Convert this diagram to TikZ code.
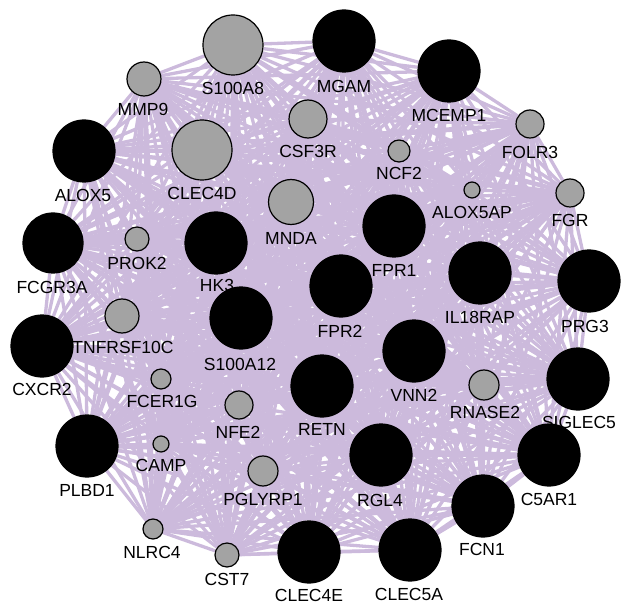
\documentclass[tikz,border=0pt]{standalone}
\usepackage{fontspec}
\setmainfont{Liberation Sans}
\definecolor{edgecol}{RGB}{204,186,220}
\definecolor{nodegray}{RGB}{163,163,163}
\pgfdeclarelayer{edges}
\pgfsetlayers{edges,main}
\tikzset{
  gene/.style={circle, draw=black, line width=1.2pt, inner sep=0pt, minimum size=#1},
  genelabel/.style={inner sep=0pt, font=\fontsize{17.5}{20}\selectfont, text=black},
  edge/.style={draw=edgecol, line width=3.3pt},
  B/.style={fill=black},
  G/.style={fill=nodegray}
}
\def\genes{S100A8,MGAM,MMP9,MCEMP1,CSF3R,FOLR3,ALOX5,CLEC4D,NCF2,ALOX5AP,FGR,MNDA,FPR1,PROK2,HK3,FCGR3A,IL18RAP,PRG3,FPR2,TNFRSF10C,S100A12,CXCR2,VNN2,FCER1G,SIGLEC5,RNASE2,RETN,NFE2,PLBD1,CAMP,PGLYRP1,RGL4,C5AR1,FCN1,NLRC4,CST7,CLEC4E,CLEC5A}
\begin{document}
\begin{tikzpicture}[x=1pt,y=-1pt]
\useasboundingbox (0,0) rectangle (624,604);
% labels first (circles drawn later cover them where they overlap)
\foreach \n/\lx/\ly in {
  S100A8/233/88, MGAM/344/86, MMP9/143/109, MCEMP1/449/115, CSF3R/308/151,
  FOLR3/530/152, ALOX5/83/195, CLEC4D/202/193, NCF2/399/173, ALOX5AP/472/212,
  FGR/570/220, MNDA/291/238, FPR1/394/270, PROK2/137/263, HK3/217/285,
  FCGR3A/52/287, IL18RAP/480/317, PRG3/585/326, FPR2/340/331, TNFRSF10C/123/347,
  S100A12/240/364, CXCR2/42/389, VNN2/414/395, FCER1G/162/401, SIGLEC5/579/422,
  RNASE2/485/412, RETN/322/429, NFE2/238/432, PLBD1/87/490, CAMP/161/465,
  PGLYRP1/263/499, RGL4/380/500, C5AR1/549/499, FCN1/482/549, NLRC4/152/552,
  CST7/227/579, CLEC4E/309/595, CLEC5A/409/594}
  \node[genelabel] (l-\n) at (\lx,\ly) {\n};
% circles
\foreach \n/\x/\y/\r/\t in {
  S100A8/233/45/30/G, MGAM/344/41/31/B, MMP9/144/79/17/G, MCEMP1/449/71/31/B,
  CSF3R/308/119/19/G, FOLR3/530/124/14/G, ALOX5/84/151/31/B, CLEC4D/202/150/30/G,
  NCF2/399/151/11/G, ALOX5AP/472/190/8/G, FGR/570/193/14/G, MNDA/291/202/22.5/G,
  FPR1/394/226/31/B, PROK2/137/239/12/G, HK3/216/243/31/B, FCGR3A/53/243/30/B,
  IL18RAP/480/273/31/B, PRG3/589/281/31/B, FPR2/341/286/31/B, TNFRSF10C/122/316/17/G,
  S100A12/241/318/31/B, CXCR2/42/346/31/B, VNN2/414/351/31/B, FCER1G/161/379/10/G,
  SIGLEC5/578/379/31/B, RNASE2/484/385/15/G, RETN/322/386/31/B, NFE2/239/405/14/G,
  PLBD1/87/446/31/B, CAMP/161/444/8/G, PGLYRP1/263/471/15/G, RGL4/381/455/31/B,
  C5AR1/549/455/31/B, FCN1/483/506/31/B, NLRC4/153/529/10/G, CST7/227/555/12/G,
  CLEC4E/309/552/31/B, CLEC5A/410/550/31/B}
  \node[gene=2*\r, \t] (\n) at (\x,\y) {};
% edges
\begin{pgfonlayer}{edges}
\foreach \a [count=\i] in \genes {
  \foreach \b [count=\j] in \genes {
    \ifnum\j>\i \draw[edge] (\a) -- (\b); \fi
  }
}
\end{pgfonlayer}
\end{tikzpicture}
\end{document}
